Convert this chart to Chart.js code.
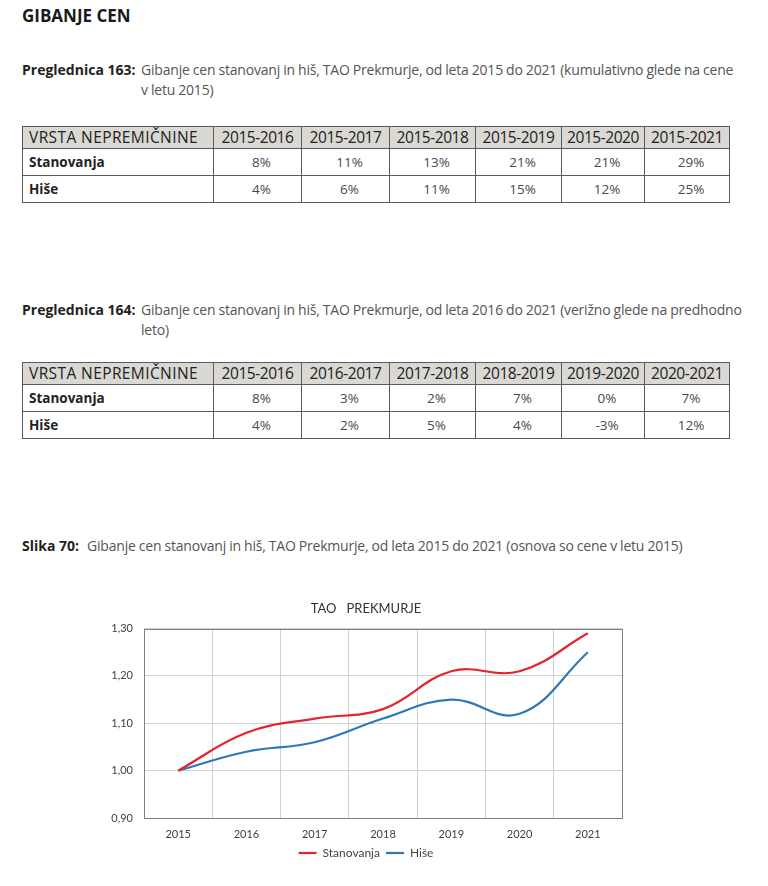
<!DOCTYPE html>
<html>
<head>
<meta charset="utf-8">
<script src="https://cdn.jsdelivr.net/npm/chart.js@4"></script>
<style>
  html, body { margin: 0; padding: 0; background: #fff; }
  body { width: 768px; height: 886px; position: relative; overflow: hidden; font-family: "Open Sans", sans-serif; color: #222; }
  h1 { position: absolute; left: 22px; top: 4px; margin: 0; font-size: 17px; font-weight: 700; color: #1a1a1a; letter-spacing: 0; }
  .cap { position: absolute; left: 22px; font-size: 14px; line-height: 20px; width: 740px; white-space: nowrap; }
  .cap b { position: absolute; left: 0; top: 0; font-weight: 700; color: #222; letter-spacing: 0; }
  .cap span { display: block; margin-left: 119px; color: #555; font-weight: 400; letter-spacing: -0.2px; word-spacing: -0.3px; }
  table { position: absolute; left: 22px; border-collapse: collapse; table-layout: fixed; width: 708px; }
  td, th { border: 1px solid #5a5a5a; padding: 0; }
  th { background: #dad8d3; font-weight: 400; color: #222; height: 21px; line-height: 19px; font-size: 15.5px; letter-spacing: -0.45px; }
  th.first { text-align: left; padding-left: 6px; letter-spacing: 0.4px; }
  td { height: 26px; color: #4a4a4a; text-align: center; padding-left: 8px; font-weight: 400; font-size: 13.5px; }
  td.lbl { text-align: left; padding-left: 6px; font-weight: 700; color: #222; font-size: 13.5px; }
  #chartBox { position: absolute; left: 90px; top: 594px; width: 560px; height: 282px; }
</style>
</head>
<body>
<h1>GIBANJE CEN</h1>

<div class="cap" style="top:60px"><b>Preglednica 163:</b><span>Gibanje cen stanovanj in hiš, TAO Prekmurje, od leta 2015 do 2021 (kumulativno glede na cene<br>v letu 2015)</span></div>
<table id="t1" style="top:126px"></table>

<div class="cap" style="top:300px"><b>Preglednica 164:</b><span>Gibanje cen stanovanj in hiš, TAO Prekmurje, od leta 2016 do 2021 (verižno glede na predhodno<br>leto)</span></div>
<table id="t2" style="top:362px"></table>

<div class="cap" style="top:536px"><b style="position:static;display:inline">Slika 70:</b><span style="display:inline;margin-left:8px">Gibanje cen stanovanj in hiš, TAO Prekmurje, od leta 2015 do 2021 (osnova so cene v letu 2015)</span></div>

<div id="chartBox"><canvas id="c"></canvas></div>

<script>
// ---- Data ----
const rowLabel = "VRSTA NEPREMIČNINE";
const seriesNames = ["Stanovanja", "Hiše"];

const table1Periods = ["2015-2016", "2015-2017", "2015-2018", "2015-2019", "2015-2020", "2015-2021"];
const table1Stanovanja = ["8%", "11%", "13%", "21%", "21%", "29%"];
const table1Hise = ["4%", "6%", "11%", "15%", "12%", "25%"];

const table2Periods = ["2015-2016", "2016-2017", "2017-2018", "2018-2019", "2019-2020", "2020-2021"];
const table2Stanovanja = ["8%", "3%", "2%", "7%", "0%", "7%"];
const table2Hise = ["4%", "2%", "5%", "4%", "-3%", "12%"];

const years = ["2015", "2016", "2017", "2018", "2019", "2020", "2021"];
const stanovanja = [1.00, 1.08, 1.11, 1.13, 1.21, 1.21, 1.29];
const hise = [1.00, 1.04, 1.06, 1.11, 1.15, 1.12, 1.25];
const yTicks = [0.90, 1.00, 1.10, 1.20, 1.30];

// ---- Tables ----
const colWidths = [191, 88, 88, 86, 86, 83, 85];
function buildTable(id, periods, a, b) {
  const t = document.getElementById(id);
  let html = '<colgroup>' + colWidths.map(w => '<col style="width:' + w + 'px">').join('') + '</colgroup>';
  html += '<tr><th class="first">' + rowLabel + '</th>' + periods.map(p => '<th>' + p + '</th>').join('') + '</tr>';
  html += '<tr><td class="lbl">' + seriesNames[0] + '</td>' + a.map(v => '<td>' + v + '</td>').join('') + '</tr>';
  html += '<tr><td class="lbl">' + seriesNames[1] + '</td>' + b.map(v => '<td>' + v + '</td>').join('') + '</tr>';
  t.innerHTML = html;
}
buildTable('t1', table1Periods, table1Stanovanja, table1Hise);
buildTable('t2', table2Periods, table2Stanovanja, table2Hise);

// ---- Chart ----
const frame = {
  id: 'frame',
  afterDraw(chart) {
    const a = chart.chartArea, ctx = chart.ctx;
    ctx.save();
    ctx.strokeStyle = '#7f7f7f';
    ctx.lineWidth = 1;
    ctx.strokeRect(Math.round(a.left) + 0.5, Math.round(a.top) + 0.5, Math.round(a.right - a.left), Math.round(a.bottom - a.top));
    ctx.restore();
  }
};
const tickFont = { family: "Lato, 'Open Sans', sans-serif", size: 11 };
new Chart(document.getElementById('c'), {
  type: 'line',
  data: {
    labels: years,
    datasets: [
      { label: seriesNames[0], data: stanovanja, borderColor: '#e3242b', backgroundColor: '#e3242b', borderWidth: 2.2, pointRadius: 0, tension: 0.4, fill: false },
      { label: seriesNames[1], data: hise, borderColor: '#2f78b8', backgroundColor: '#2f78b8', borderWidth: 2.2, pointRadius: 0, tension: 0.4, fill: false }
    ]
  },
  options: {
    responsive: true,
    maintainAspectRatio: false,
    animation: false,
    layout: { padding: { left: 20, right: 28, top: 0, bottom: 7 } },
    plugins: {
      tooltip: { enabled: false },
      title: { display: true, text: 'TAO   PREKMURJE', color: '#333', font: { family: "Lato, 'Open Sans', sans-serif", size: 13, weight: 'normal' }, padding: { top: 7, bottom: 12 } },
      legend: {
        position: 'bottom',
        labels: {
          usePointStyle: true, pointStyle: 'line', pointStyleWidth: 18, boxHeight: 8,
          color: '#444', font: { family: "Lato, 'Open Sans', sans-serif", size: 12 }, padding: 6
        }
      }
    },
    scales: {
      x: {
        offset: true,
        grid: { offset: true, color: '#d0d0d0', lineWidth: 1, drawTicks: false },
        border: { display: false },
        ticks: { color: '#404040', font: tickFont, padding: 10 },
        afterFit(s) { s.height = 23; }
      },
      y: {
        min: 0.9, max: 1.3,
        afterBuildTicks(s) { s.ticks = yTicks.map(v => ({ value: v })); },
        grid: { color: '#d0d0d0', lineWidth: 1, drawTicks: false },
        border: { display: false },
        ticks: { color: '#404040', font: tickFont, padding: 11, callback: v => v.toFixed(2).replace('.', ',') },
        afterFit(s) { s.width = 34; }
      }
    }
  },
  plugins: [frame]
});
</script>
</body>
</html>
